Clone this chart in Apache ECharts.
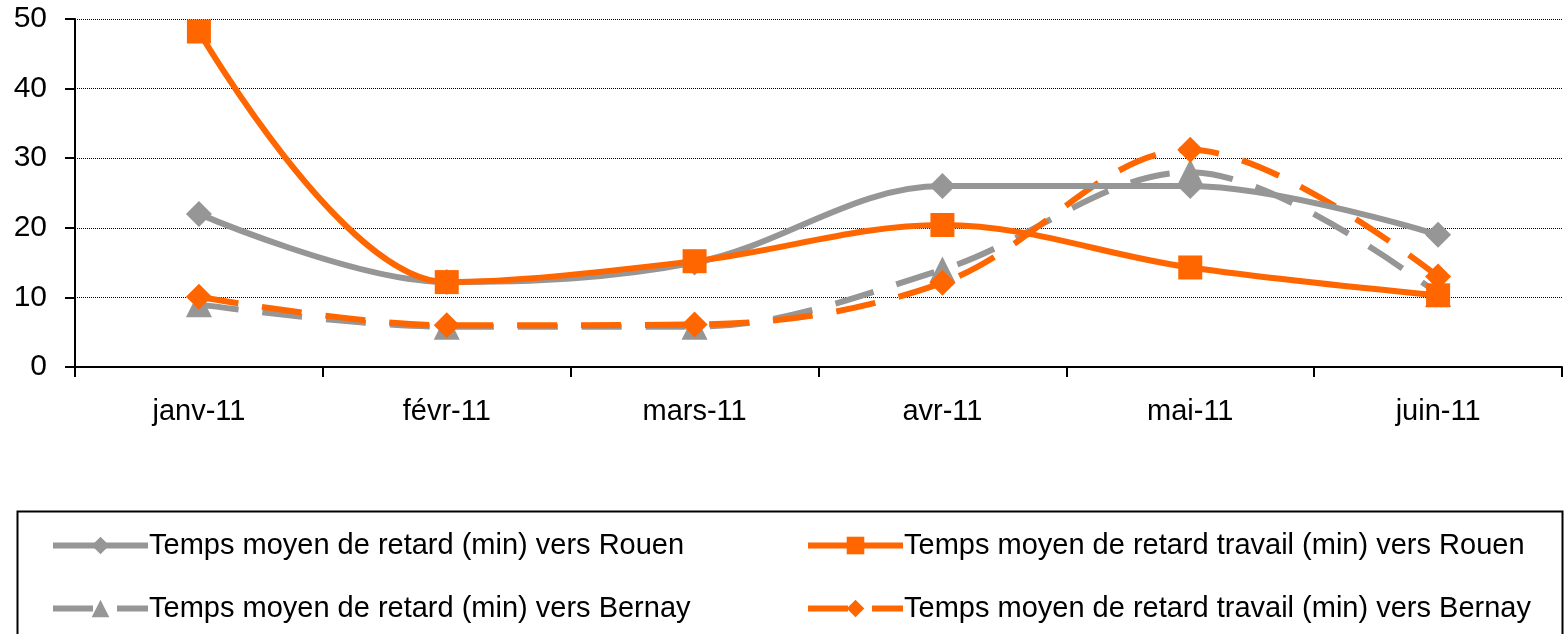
<!DOCTYPE html>
<html>
<head>
<meta charset="utf-8">
<script src="https://cdn.jsdelivr.net/npm/echarts@6/dist/echarts.min.js"></script>
<style>
html,body{margin:0;padding:0;background:#fff}
#chart{width:1564px;height:634px}
</style>
</head>
<body>
<div id="chart"></div>
<script>
// months on the x axis
const months = ['janv-11', 'févr-11', 'mars-11', 'avr-11', 'mai-11', 'juin-11'];
const names = [
 'Temps moyen de retard (min) vers Rouen',
 'Temps moyen de retard travail (min) vers Rouen',
 'Temps moyen de retard (min) vers Bernay',
 'Temps moyen de retard travail (min) vers Bernay'
];
// values
const retardRouen = [22, 12.2, 15, 26, 26, 19];
const travailRouen = [48.2, 12.2, 15.2, 20.4, 14.3, 10.3];
const retardBernay = [9, 5.8, 5.8, 14, 28, 10.5];
const travailBernay = [10.1, 6, 6.1, 12.1, 31.2, 13];

const grey = '#969696';
const orange = '#ff6600';
const font = 'Liberation Sans, Arial, sans-serif';

function mkSeries(name, data, color, symbol, size, dashed) {
 return {
 name: name,
 type: 'line',
 data: data,
 smooth: 0.35,
 symbol: symbol,
 symbolSize: size,
 itemStyle: {color: color},
 lineStyle: {color: color, width: 6, type: dashed ? [40, 24] : 'solid'},
 emphasis: {disabled: true}
 };
}

function mkLegend(left, data) {
 return {
 orient: 'vertical', left: left, top: 526, itemGap: 34,
 itemWidth: 95, itemHeight: 22,
 data: data,
 lineStyle: {width: 6},
 textStyle: {fontSize: 29, color: '#000', fontFamily: font, padding: [0, 0, 0, -4]},
 selectedMode: false
 };
}

const chart = echarts.init(document.getElementById('chart'));
const option = {
 animation: false,
 grid: {left: 75, right: 2, top: 19, bottom: 267},
 xAxis: {
 type: 'category',
 data: months,
 boundaryGap: true,
 axisLine: {lineStyle: {color: '#000', width: 2}},
 axisTick: {show: true, length: 10, lineStyle: {color: '#000', width: 2}},
 axisLabel: {color: '#000', fontSize: 29, fontFamily: font, margin: 30}
 },
 yAxis: {
 type: 'value',
 min: 0, max: 50, interval: 10,
 axisLine: {show: true, lineStyle: {color: '#000', width: 2}},
 axisTick: {show: true, length: 10, lineStyle: {color: '#000', width: 2}},
 axisLabel: {color: '#000', fontSize: 30, fontFamily: font, margin: 28},
 splitLine: {lineStyle: {color: '#000', width: 1, type: [1, 1]}}
 },
 legend: [
 mkLegend(45, [names[0], names[2]]),
 mkLegend(800, [names[1], names[3]])
 ],
 graphic: [{
 type: 'rect', left: 15, top: 509,
 shape: {width: 1545, height: 140},
 style: {fill: 'none', stroke: '#000', lineWidth: 2}
 }],
 series: [
 mkSeries(names[2], retardBernay, grey, 'triangle', 26, true),
 mkSeries(names[3], travailBernay, orange, 'diamond', 26, true),
 mkSeries(names[0], retardRouen, grey, 'diamond', 26, false),
 mkSeries(names[1], travailRouen, orange, 'rect', 24, false)
 ]
};
chart.setOption(option);
</script>
</body>
</html>
